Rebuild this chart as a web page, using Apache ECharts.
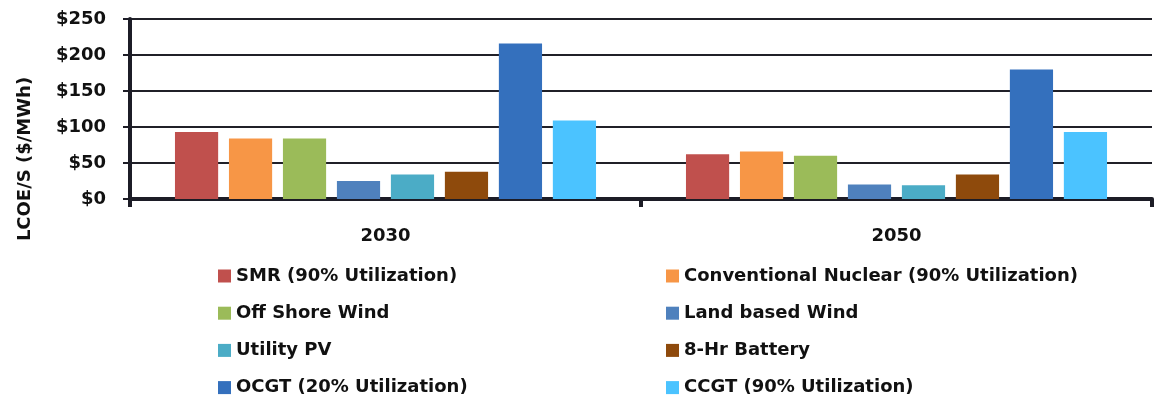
<!DOCTYPE html>
<html>
<head>
<meta charset="utf-8">
<style>
  html, body { margin: 0; padding: 0; background: #ffffff; }
  #chart { width: 1165px; height: 398px; }
</style>
<script src="https://cdn.jsdelivr.net/npm/echarts@6/dist/echarts.min.js"></script>
</head>
<body>
<div id="chart"></div>
<script>
// Levelized cost of electricity by technology, $/MWh
const categories = ['2030', '2050'];
const seriesNames = [
  'SMR (90% Utilization)',
  'Conventional Nuclear (90% Utilization)',
  'Off Shore Wind',
  'Land based Wind',
  'Utility PV',
  '8-Hr Battery',
  'OCGT (20% Utilization)',
  'CCGT (90% Utilization)'
];
const smr = [93, 62];
const conventionalNuclear = [84, 66];
const offShoreWind = [84, 60];
const landBasedWind = [25, 20];
const utilityPV = [34, 19];
const battery8Hr = [38, 34];
const ocgt = [216, 180];
const ccgt = [109, 93];
const yTicks = [0, 50, 100, 150, 200, 250];

const values = [smr, conventionalNuclear, offShoreWind, landBasedWind, utilityPV, battery8Hr, ocgt, ccgt];
const colors = ['#C0504D', '#F79646', '#9BBB59', '#4F81BD', '#4BACC6', '#8E4A0C', '#3470BD', '#4BC3FF'];

const FONT = '"DejaVu Sans", sans-serif';
const INK = '#111111';
const AXIS = '#1c1c26';

const chart = echarts.init(document.getElementById('chart'), null, { renderer: 'canvas' });

const series = seriesNames.map((name, i) => ({
  name: name,
  type: 'bar',
  data: values[i],
  barGap: '25%',
  barCategoryGap: '17.6%',
  itemStyle: { color: colors[i] },
  emphasis: { disabled: true }
}));

// Two vertical legend columns under the plot
const legendText = { fontFamily: FONT, fontWeight: 'bold', fontSize: 18, color: INK, lineHeight: 18 };
const legendCommon = {
  orient: 'vertical',
  top: 267,
  height: 131,
  padding: 0,
  itemWidth: 13,
  itemHeight: 13,
  itemGap: 19.2,
  icon: 'rect',
  selectedMode: false,
  textStyle: legendText
};

chart.setOption({
  animation: false,
  backgroundColor: '#ffffff',
  grid: { left: 130, right: 13, top: 19, bottom: 199, containLabel: false },
  legend: [
    Object.assign({ left: 218, data: [seriesNames[0], seriesNames[2], seriesNames[4], seriesNames[6]] }, legendCommon),
    Object.assign({ left: 666, data: [seriesNames[1], seriesNames[3], seriesNames[5], seriesNames[7]] }, legendCommon)
  ],
  xAxis: {
    type: 'category',
    data: categories,
    axisLine: { show: true, lineStyle: { color: AXIS, width: 4 } },
    axisTick: { show: true, length: 8, lineStyle: { color: AXIS, width: 4 } },
    axisLabel: { margin: 28, fontFamily: FONT, fontWeight: 'bold', fontSize: 18, color: INK }
  },
  yAxis: {
    type: 'value',
    min: yTicks[0],
    max: yTicks[yTicks.length - 1],
    interval: yTicks[1] - yTicks[0],
    axisLine: { show: true, lineStyle: { color: AXIS, width: 4 } },
    axisTick: { show: true, length: 7, lineStyle: { color: AXIS, width: 2 } },
    splitLine: { show: true, lineStyle: { color: '#202028', width: 2 } },
    axisLabel: {
      margin: 24,
      fontFamily: FONT, fontWeight: 'bold', fontSize: 18, color: INK,
      formatter: v => '$' + v
    }
  },
  graphic: [{
    type: 'text',
    x: 25,
    y: 159,
    rotation: Math.PI / 2,
    style: {
      text: 'LCOE/S ($/MWh)',
      fontFamily: FONT,
      fontWeight: 'bold',
      fontSize: 18,
      fill: INK,
      align: 'center',
      verticalAlign: 'middle'
    }
  }],
  series: series
});
</script>
</body>
</html>
